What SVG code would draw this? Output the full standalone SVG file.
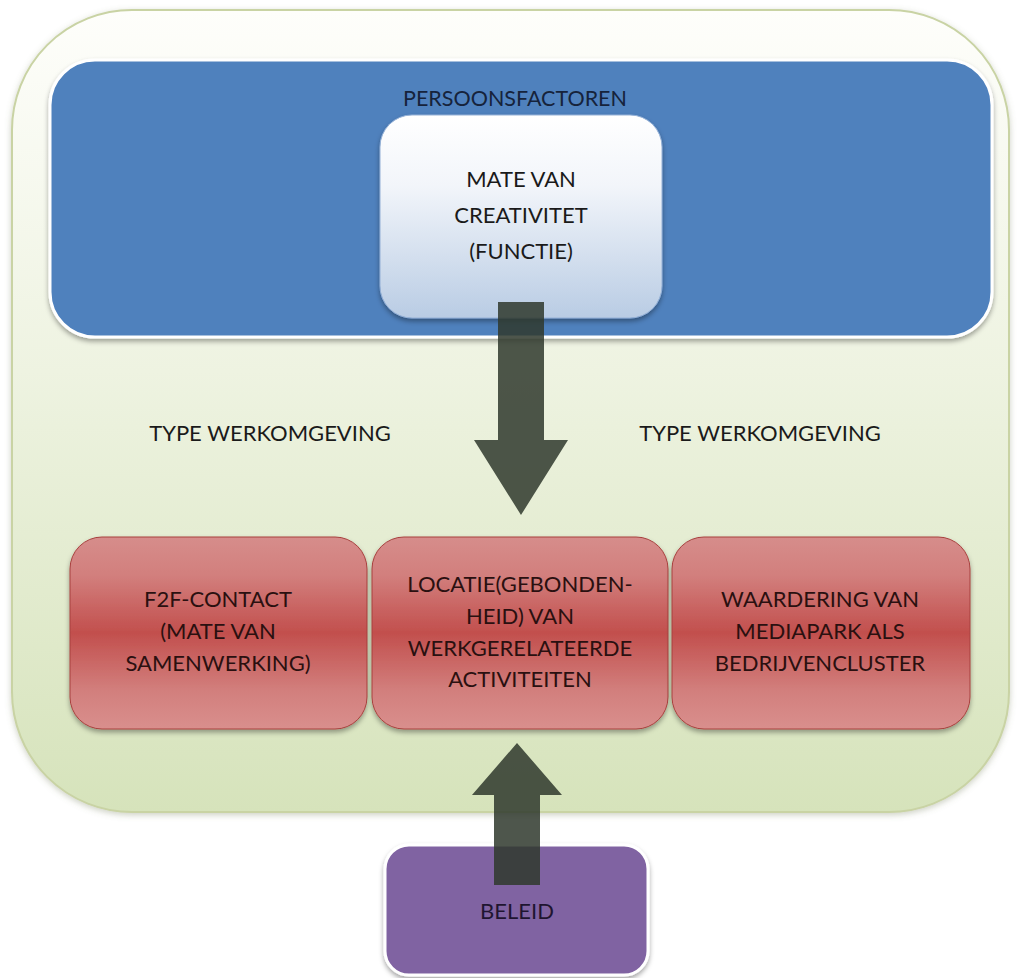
<svg xmlns="http://www.w3.org/2000/svg" width="1019" height="978" viewBox="0 0 1019 978">
  <defs>
    <linearGradient id="gOuter" x1="0" y1="0" x2="0" y2="1">
      <stop offset="0" stop-color="#fefefb"/>
      <stop offset="0.45" stop-color="#eef3e1"/>
      <stop offset="1" stop-color="#d6e3bb"/>
    </linearGradient>
    <linearGradient id="gWhite" x1="0" y1="0" x2="0" y2="1">
      <stop offset="0" stop-color="#ffffff"/>
      <stop offset="0.35" stop-color="#f2f5fa"/>
      <stop offset="1" stop-color="#b9cce4"/>
    </linearGradient>
    <linearGradient id="gRed" x1="0" y1="0" x2="0" y2="1">
      <stop offset="0" stop-color="#d68d8b"/>
      <stop offset="0.2" stop-color="#d27f7d"/>
      <stop offset="0.5" stop-color="#c24f4d"/>
      <stop offset="0.8" stop-color="#d27f7d"/>
      <stop offset="1" stop-color="#d98f8d"/>
    </linearGradient>
    <filter id="shadow" x="-10%" y="-10%" width="120%" height="130%">
      <feDropShadow dx="0" dy="3" stdDeviation="2.5" flood-color="#000" flood-opacity="0.35"/>
    </filter>
    <filter id="softShadow" x="-10%" y="-10%" width="120%" height="130%">
      <feDropShadow dx="0" dy="2" stdDeviation="3" flood-color="#6d7a55" flood-opacity="0.35"/>
    </filter>
  </defs>
  <style>
    text { font-family: Lato, "Liberation Sans", sans-serif; font-size: 22px; text-anchor: middle; }
    .dark { fill: #1a1a1a; }
    .navy { fill: #16233b; }
    .red { fill: #2a1010; }
    .purple { fill: #1f1530; }
    .arrow { fill: #2f382d; fill-opacity: 0.85; }
  </style>

  <rect width="1019" height="978" fill="#ffffff"/>

  <!-- outer container: type werkomgeving -->
  <g id="werkomgeving">
    <rect x="12" y="10" width="997" height="802" rx="120" ry="120" fill="url(#gOuter)" stroke="#c9d3a4" stroke-width="2" filter="url(#softShadow)"/>
    <text class="dark" x="270" y="441">TYPE WERKOMGEVING</text>
    <text class="dark" x="760" y="441">TYPE WERKOMGEVING</text>
  </g>

  <!-- persoonsfactoren -->
  <g id="persoonsfactoren">
    <rect x="50" y="60" width="942" height="277" rx="45" ry="45" fill="#4f81bd" stroke="#ffffff" stroke-width="3" filter="url(#shadow)"/>
    <text class="navy" x="515" y="106" style="font-size:21.5px">PERSOONSFACTOREN</text>
  </g>

  <g id="creativiteit">
    <rect x="380" y="115" width="282" height="203" rx="32" ry="32" fill="url(#gWhite)" stroke="#94b0d6" stroke-width="1" filter="url(#shadow)"/>
    <text class="dark" x="521" y="187">MATE VAN</text>
    <text class="dark" x="521" y="223">CREATIVITET</text>
    <text class="dark" x="521" y="259">(FUNCTIE)</text>
  </g>

  <!-- factor boxes -->
  <g id="f2f">
    <rect x="70" y="537" width="297" height="192" rx="32" ry="32" fill="url(#gRed)" stroke="#a8403e" stroke-width="1" filter="url(#shadow)"/>
    <text class="red" x="218" y="607">F2F-CONTACT</text>
    <text class="red" x="218" y="639">(MATE VAN</text>
    <text class="red" x="218" y="671">SAMENWERKING)</text>
  </g>

  <g id="locatie">
    <rect x="372" y="537" width="296" height="192" rx="32" ry="32" fill="url(#gRed)" stroke="#a8403e" stroke-width="1" filter="url(#shadow)"/>
    <text class="red" x="520" y="592">LOCATIE(GEBONDEN-</text>
    <text class="red" x="520" y="624">HEID) VAN</text>
    <text class="red" x="520" y="656">WERKGERELATEERDE</text>
    <text class="red" x="520" y="687">ACTIVITEITEN</text>
  </g>

  <g id="waardering">
    <rect x="672" y="537" width="298" height="192" rx="32" ry="32" fill="url(#gRed)" stroke="#a8403e" stroke-width="1" filter="url(#shadow)"/>
    <text class="red" x="820" y="607">WAARDERING VAN</text>
    <text class="red" x="820" y="639">MEDIAPARK ALS</text>
    <text class="red" x="820" y="671">BEDRIJVENCLUSTER</text>
  </g>

  <!-- policy -->
  <g id="beleid">
    <rect x="385" y="845" width="263" height="130" rx="24" ry="24" fill="#8064a2" stroke="#ffffff" stroke-width="3" filter="url(#shadow)"/>
    <text class="purple" x="517" y="919">BELEID</text>
  </g>

  <!-- connectors: block arrows -->
  <g id="connectors">
    <path class="arrow" d="M498,302 H544 V440 H568 L521,515 L474,440 H498 Z"/>
    <path class="arrow" d="M494,885 V795 H472 L517,743 L562,795 H540 V885 Z"/>
  </g>
</svg>
